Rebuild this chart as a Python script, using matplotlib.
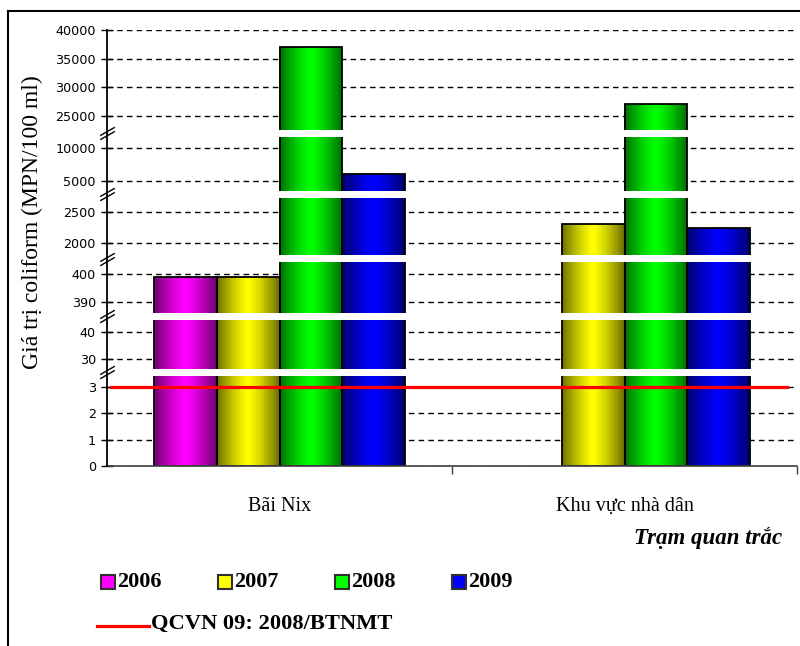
import numpy as np
import matplotlib
matplotlib.use("Agg")
import matplotlib.pyplot as plt
from matplotlib.path import Path
from matplotlib.lines import Line2D
from matplotlib.patches import Rectangle
from matplotlib.transforms import blended_transform_factory
from matplotlib.colors import to_rgb

# Coliform at the monitoring stations (MPN/100 ml)
stations = ["Bãi Nix", "Khu vực nhà dân"]
years = ["2006", "2007", "2008", "2009"]
coliform_2006 = [399, np.nan]
coliform_2007 = [399, 2300]
coliform_2008 = [37000, 27000]
coliform_2009 = [6000, 2230]
qcvn_limit = 3

year_colors = ["#ff00ff", "#ffff00", "#00ff00", "#0000ff"]
ytick_values = [0, 1, 2, 3, 30, 40, 390, 400, 2000, 2500,
                5000, 10000, 25000, 30000, 35000, 40000]

# broken y axis: value range of every visible piece and where it sits (px above 0)
pieces_val = [(0, 3.42), (26.6, 44.7), (386.1, 404.3),
              (1802, 2729), (3574, 11682), (22584, 40000)]
pieces_pos = [(0, 90.5), (97.5, 146.5), (153.5, 204),
              (211, 268.5), (275.5, 329.5), (336.5, 436)]
knot_val = np.array([v for p in pieces_val for v in p], dtype=float)
knot_pos = np.array([v for p in pieces_pos for v in p], dtype=float)


def forward(v):
    return np.interp(v, knot_val, knot_pos)


def inverse(p):
    return np.interp(p, knot_pos, knot_val)


serif = "Liberation Serif"
W, H = 800, 646
fig = plt.figure(figsize=(W / 100, H / 100), dpi=100)
ax = fig.add_axes([107 / W, 180 / H, 690 / W, 436 / H])
ax.set_yscale("function", functions=(forward, inverse))
ax.set_ylim(0, 40000)
ax.set_xlim(-0.5, 1.5)

# bars with a cylinder-like horizontal shading
series = [coliform_2006, coliform_2007, coliform_2008, coliform_2009]
bw = 0.182
nstrip = 40
t = (np.arange(nstrip) + 0.5) / nstrip
shade = 1 - 0.58 * np.abs(2 * t - 1) ** 1.3
for i, vals in enumerate(series):
    base = np.array(to_rgb(year_colors[i]))
    cols = [tuple(base * s) for s in shade]
    for j, v in enumerate(vals):
        if np.isnan(v):
            continue
        xc = j + (i - 1.5) * bw
        xs = xc - bw / 2 + t * bw
        ax.bar(xs, [v] * nstrip, width=bw / nstrip * 1.05, color=cols,
               linewidth=0, zorder=2)
        ax.bar(xc, v, width=bw, fill=False, edgecolor="black",
               linewidth=1.3, zorder=2.2)

# white gaps where the axis is broken
trans = blended_transform_factory(ax.transAxes, ax.transData)
brk = Path([(-7, -6), (7, 2), (-7, -2), (7, 6)],
           [Path.MOVETO, Path.LINETO, Path.MOVETO, Path.LINETO])
for k in range(len(pieces_val) - 1):
    ax.axhspan(pieces_val[k][1], pieces_val[k + 1][0], xmin=0.003, xmax=1,
               color="white", linewidth=0, zorder=3)
    mid = inverse((pieces_pos[k][1] + pieces_pos[k + 1][0]) / 2)
    ax.plot([0], [mid], marker=brk, markersize=10.5, color="black",
            markeredgewidth=1, transform=trans, clip_on=False, zorder=6)

ax.axhline(qcvn_limit, xmin=0.006, xmax=0.986, color="#ff0000",
           linewidth=2.3, zorder=4)

ax.set_yticks(ytick_values)
ax.set_yticklabels([str(v) for v in ytick_values])
ax.yaxis.set_minor_locator(matplotlib.ticker.NullLocator())
ax.yaxis.grid(True, linestyle=(0, (4, 3)), color="black", linewidth=1)
ax.set_axisbelow(True)
ax.tick_params(axis="y", direction="inout", length=8, width=1, pad=4,
               labelsize=9.2, labelcolor="black")

ax.set_xticks([0, 1])
ax.set_xticklabels(stations, fontfamily=serif, fontsize=14.5)
ax.set_xticks([0.5, 1.5], minor=True)
ax.tick_params(axis="x", which="major", length=0, pad=22)
ax.tick_params(axis="x", which="minor", direction="out", length=6,
               width=1, color="#404040")

for s in ("top", "right"):
    ax.spines[s].set_visible(False)
ax.spines["left"].set_linewidth(1.3)
ax.spines["left"].set_zorder(5)
ax.spines["bottom"].set_color("#404040")
ax.spines["bottom"].set_linewidth(1.2)

fig.text(32 / W, 1 - 222 / H, "Giá trị coliform (MPN/100 ml)", rotation=90,
         ha="center", va="center", fontfamily=serif, fontsize=17)
fig.text(782 / W, 1 - 538 / H, "Trạm quan trắc", ha="right", va="center",
         fontfamily=serif, fontsize=16.5, fontweight="bold", fontstyle="italic")

# legend drawn below the plot
for i, yr in enumerate(years):
    x0 = 101 + i * 117
    fig.patches.append(Rectangle((x0 / W, 1 - 589 / H), 14 / W, 14 / H,
                                 transform=fig.transFigure,
                                 facecolor=year_colors[i],
                                 edgecolor="#303030", linewidth=1.5))
    fig.text((x0 + 16) / W, 1 - 582 / H, yr, ha="left", va="center",
             fontfamily=serif, fontsize=16, fontweight="bold")
fig.add_artist(Line2D([97 / W, 149 / W], [1 - 626 / H, 1 - 626 / H],
                      color="#ff0000", linewidth=2.3))
fig.text(151 / W, 1 - 624 / H, "QCVN 09: 2008/BTNMT", ha="left", va="center",
         fontfamily=serif, fontsize=16.2, fontweight="bold")

# outer frame (left and top edges)
fig.add_artist(Line2D([8 / W, 8 / W], [0, 1 - 11 / H], color="black", lw=1.5))
fig.add_artist(Line2D([8 / W, 1], [1 - 11 / H, 1 - 11 / H], color="black", lw=1.5))

fig.savefig("out.png", dpi=100)
